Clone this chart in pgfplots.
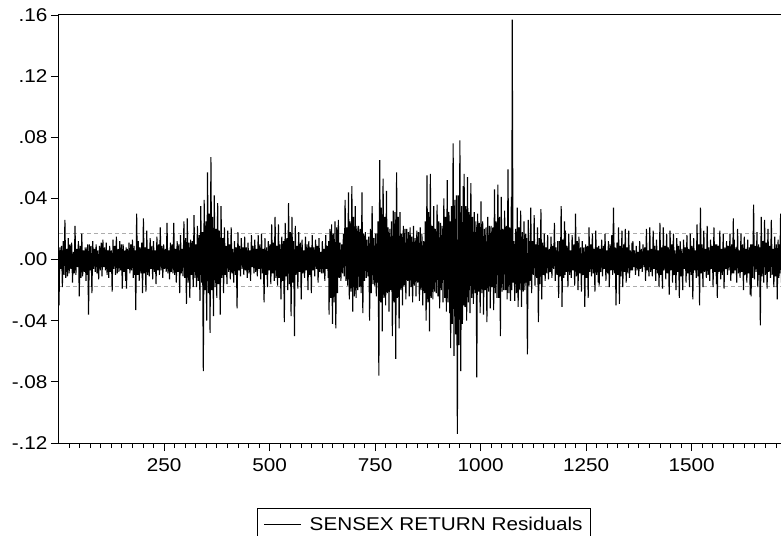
\documentclass[border=0pt]{standalone}
\usepackage{fontspec}
\setmainfont{Liberation Sans}[FakeStretch=1.12]
\usepackage{pgfplots}
\pgfplotsset{compat=1.18}
\usepackage{pgfplotstable}

\pgfplotstableread[row sep=\\]{
x y\\
1 -0.030\\ 3 0.008\\ 5 -0.006\\ 7 0.009\\ 9 -0.018\\ 11 0.012\\ 13 -0.010\\ 15 0.026\\ 17 -0.012\\ 19 0.007\\ 21 -0.011\\ 23 0.014\\ 25 -0.009\\ 27 0.010\\ 29 -0.006\\ 31 0.011\\ 33 -0.015\\ 35 0.005\\ 37 -0.009\\ 39 0.022\\
41 -0.010\\ 43 0.007\\ 45 -0.005\\ 47 0.012\\ 49 -0.024\\ 51 0.009\\ 53 -0.012\\ 55 0.017\\ 57 -0.011\\ 59 0.006\\ 61 -0.008\\ 63 0.008\\ 65 -0.014\\ 67 0.008\\ 68 -0.010\\ 69 0.010\\ 71 -0.036\\ 73 0.010\\ 75 -0.007\\ 77 0.009\\ 79 -0.022\\
81 0.012\\ 83 -0.006\\ 85 0.007\\ 87 -0.008\\ 89 0.010\\ 91 -0.009\\ 93 0.006\\ 95 -0.013\\ 97 0.009\\ 99 -0.007\\ 101 0.011\\ 103 -0.011\\ 105 0.013\\ 107 -0.005\\ 109 0.008\\ 111 -0.007\\ 113 0.011\\ 115 -0.010\\ 117 0.006\\ 119 -0.012\\
121 0.009\\ 123 -0.008\\ 125 0.006\\ 127 -0.021\\ 129 0.013\\ 131 -0.006\\ 133 0.009\\ 135 -0.010\\ 137 0.015\\ 139 -0.009\\ 141 0.007\\ 143 -0.008\\ 145 0.012\\ 147 -0.007\\ 149 0.010\\ 151 -0.019\\ 153 0.010\\ 155 -0.008\\ 157 0.006\\ 159 -0.014\\ 160 0.008\\
161 -0.019\\ 163 0.007\\ 165 -0.006\\ 167 0.011\\ 169 -0.009\\ 171 0.010\\ 173 -0.007\\ 175 0.013\\ 177 -0.012\\ 179 0.009\\ 180 -0.010\\ 181 0.006\\ 183 -0.033\\ 185 0.030\\ 187 -0.010\\ 189 0.012\\ 191 -0.014\\ 193 0.008\\ 195 -0.009\\ 197 0.011\\ 199 -0.022\\
201 0.027\\ 203 -0.009\\ 205 0.008\\ 207 -0.021\\ 209 0.019\\ 211 -0.010\\ 213 0.007\\ 215 -0.011\\ 217 0.014\\ 219 -0.006\\ 221 0.009\\ 223 -0.013\\ 225 0.012\\ 227 -0.008\\ 229 0.006\\ 231 -0.016\\ 233 0.015\\ 235 -0.007\\ 237 0.010\\ 239 -0.010\\
241 0.021\\ 243 -0.007\\ 245 0.009\\ 247 -0.012\\ 249 0.010\\ 251 -0.006\\ 253 0.007\\ 255 -0.008\\ 257 0.024\\ 259 -0.009\\ 261 0.006\\ 263 -0.013\\ 265 0.011\\ 267 -0.008\\ 269 0.010\\ 271 -0.009\\ 273 0.024\\ 275 -0.010\\ 277 0.007\\ 279 -0.015\\
281 0.012\\ 283 -0.008\\ 285 0.010\\ 287 -0.022\\ 289 0.016\\ 291 -0.009\\ 293 0.007\\ 295 -0.011\\ 297 0.025\\ 299 -0.012\\ 301 0.014\\ 303 -0.029\\ 305 0.027\\ 307 -0.015\\ 309 0.011\\ 311 -0.025\\ 313 0.013\\ 315 -0.010\\ 317 0.012\\ 319 -0.018\\
321 0.029\\ 323 -0.012\\ 325 0.010\\ 327 -0.018\\ 329 0.022\\ 331 -0.014\\ 333 0.016\\ 335 -0.027\\ 337 0.035\\ 339 -0.015\\ 341 0.018\\ 343 -0.073\\ 345 0.039\\ 347 -0.020\\ 349 0.025\\ 351 -0.040\\ 353 0.057\\ 355 -0.022\\ 357 0.030\\ 359 -0.048\\
361 0.067\\ 363 -0.020\\ 365 0.028\\ 367 -0.037\\ 369 0.042\\ 371 -0.018\\ 373 0.020\\ 375 -0.025\\ 377 0.037\\ 379 -0.016\\ 381 0.019\\ 383 -0.036\\ 385 0.035\\ 387 -0.012\\ 389 0.014\\ 391 -0.022\\ 393 0.021\\ 395 -0.010\\ 397 0.009\\ 399 -0.016\\
401 0.019\\ 403 -0.008\\ 405 0.010\\ 407 -0.013\\ 409 0.021\\ 411 -0.009\\ 413 0.007\\ 415 -0.015\\ 417 0.012\\ 419 -0.010\\ 421 0.008\\ 423 -0.032\\ 425 0.018\\ 427 -0.007\\ 429 0.009\\ 431 -0.011\\ 433 0.014\\ 435 -0.006\\ 437 0.008\\ 439 -0.010\\
441 0.015\\ 443 -0.007\\ 445 0.008\\ 447 -0.012\\ 449 0.011\\ 451 -0.009\\ 453 0.006\\ 455 -0.014\\ 457 0.016\\ 459 -0.005\\ 461 0.009\\ 463 -0.009\\ 465 0.013\\ 467 -0.008\\ 469 0.007\\ 471 -0.011\\ 473 0.016\\ 475 -0.006\\ 477 0.010\\ 479 -0.013\\
481 0.017\\ 483 -0.009\\ 485 0.007\\ 487 -0.028\\ 489 0.014\\ 491 -0.010\\ 493 0.008\\ 495 -0.018\\ 497 0.012\\ 499 -0.007\\ 501 0.010\\ 503 -0.016\\ 505 0.023\\ 507 -0.009\\ 509 0.011\\ 511 -0.014\\ 513 0.028\\ 515 -0.012\\ 517 0.009\\ 519 -0.017\\
521 0.023\\ 523 -0.012\\ 525 0.010\\ 527 -0.026\\ 529 0.015\\ 531 -0.014\\ 533 0.012\\ 535 -0.041\\ 537 0.024\\ 539 -0.011\\ 541 0.014\\ 543 -0.020\\ 545 0.037\\ 547 -0.016\\ 549 0.018\\ 551 -0.037\\ 553 0.028\\ 555 -0.015\\ 557 0.012\\ 559 -0.050\\
561 0.022\\ 563 -0.010\\ 565 0.009\\ 567 -0.019\\ 569 0.018\\ 571 -0.008\\ 573 0.011\\ 575 -0.026\\ 577 0.013\\ 579 -0.009\\ 581 0.006\\ 583 -0.012\\ 585 0.015\\ 587 -0.007\\ 589 0.010\\ 591 -0.020\\ 593 0.012\\ 595 -0.010\\ 597 0.008\\ 599 -0.022\\
601 0.016\\ 603 -0.007\\ 605 0.008\\ 607 -0.011\\ 609 0.013\\ 611 -0.006\\ 613 0.009\\ 615 -0.015\\ 617 0.014\\ 619 -0.008\\ 621 0.005\\ 623 -0.009\\ 625 0.012\\ 627 -0.009\\ 629 0.007\\ 631 -0.014\\ 633 0.016\\ 635 -0.006\\ 637 0.009\\ 639 -0.012\\ 640 0.012\\
641 -0.036\\ 643 0.020\\ 645 -0.025\\ 647 0.023\\ 649 -0.042\\ 651 0.017\\ 653 -0.028\\ 655 0.025\\ 657 -0.045\\ 659 0.021\\ 661 -0.022\\ 663 0.026\\ 665 -0.012\\ 667 0.011\\ 669 -0.014\\ 671 0.010\\ 673 -0.009\\ 675 0.017\\ 677 -0.011\\ 679 0.039\\
681 -0.014\\ 683 0.021\\ 685 -0.017\\ 687 0.044\\ 689 -0.026\\ 691 0.025\\ 693 -0.021\\ 695 0.048\\ 697 -0.034\\ 699 0.028\\ 701 -0.024\\ 703 0.035\\ 705 -0.025\\ 707 0.022\\ 709 -0.020\\ 711 0.022\\ 713 -0.018\\ 715 0.020\\ 717 -0.022\\ 719 0.044\\
721 -0.035\\ 723 0.017\\ 725 -0.014\\ 727 0.018\\ 729 -0.012\\ 731 0.013\\ 733 -0.011\\ 735 0.015\\ 737 -0.040\\ 739 0.020\\ 741 -0.022\\ 743 0.035\\ 745 -0.016\\ 747 0.014\\ 749 -0.017\\ 751 0.017\\ 753 -0.024\\ 755 0.017\\ 756 -0.015\\ 757 0.025\\ 759 -0.076\\
761 0.065\\ 763 -0.028\\ 765 0.034\\ 767 -0.047\\ 769 0.053\\ 771 -0.025\\ 773 0.028\\ 775 -0.030\\ 777 0.045\\ 779 -0.022\\ 781 0.021\\ 783 -0.034\\ 785 0.020\\ 787 -0.020\\ 789 0.025\\ 791 -0.050\\ 793 0.032\\ 795 -0.028\\ 797 0.031\\ 799 -0.065\\
801 0.057\\ 803 -0.025\\ 805 0.028\\ 807 -0.045\\ 809 0.031\\ 811 -0.020\\ 813 0.017\\ 815 -0.030\\ 817 0.022\\ 819 -0.017\\ 821 0.020\\ 823 -0.026\\ 825 0.020\\ 827 -0.014\\ 829 0.018\\ 831 -0.024\\ 833 0.021\\ 835 -0.018\\ 837 0.015\\ 839 -0.028\\
841 0.022\\ 843 -0.017\\ 845 0.014\\ 847 -0.024\\ 849 0.019\\ 851 -0.015\\ 853 0.018\\ 855 -0.027\\ 857 0.021\\ 859 -0.020\\ 861 0.017\\ 863 -0.030\\ 865 0.012\\ 867 -0.022\\ 869 0.025\\ 871 -0.040\\ 873 0.055\\ 875 -0.028\\ 877 0.031\\ 879 -0.047\\
881 0.056\\ 883 -0.025\\ 885 0.022\\ 887 -0.026\\ 889 0.035\\ 891 -0.021\\ 893 0.020\\ 895 -0.022\\ 897 0.036\\ 899 -0.024\\ 901 0.025\\ 903 -0.032\\ 905 0.024\\ 907 -0.020\\ 909 0.022\\ 911 -0.028\\ 913 0.040\\ 915 -0.025\\ 917 0.028\\ 919 -0.034\\
921 0.052\\ 923 -0.028\\ 925 0.031\\ 927 -0.035\\ 928 0.025\\ 929 -0.058\\ 931 0.035\\ 933 -0.042\\ 935 0.076\\ 937 -0.063\\ 939 0.039\\ 941 -0.049\\ 943 0.042\\ 945 -0.114\\ 947 0.042\\ 949 -0.056\\ 951 0.078\\ 953 -0.073\\ 955 0.035\\ 957 -0.042\\ 959 0.048\\ 960 -0.030\\
961 0.056\\ 963 -0.031\\ 965 0.035\\ 967 -0.040\\ 969 0.054\\ 971 -0.028\\ 973 0.031\\ 975 -0.035\\ 977 0.050\\ 979 -0.025\\ 981 0.028\\ 983 -0.029\\ 985 0.031\\ 987 -0.022\\ 989 0.025\\ 991 -0.077\\ 993 0.030\\ 995 -0.021\\ 997 0.024\\ 999 -0.035\\
1001 0.038\\ 1003 -0.022\\ 1005 0.025\\ 1007 -0.036\\ 1009 0.020\\ 1011 -0.020\\ 1013 0.021\\ 1015 -0.041\\ 1017 0.028\\ 1019 -0.021\\ 1021 0.022\\ 1023 -0.032\\ 1025 0.022\\ 1027 -0.018\\ 1029 0.021\\ 1031 -0.033\\ 1033 0.046\\ 1035 -0.022\\ 1037 0.025\\ 1039 -0.025\\
1041 0.049\\ 1043 -0.025\\ 1045 0.028\\ 1047 -0.050\\ 1049 0.041\\ 1051 -0.021\\ 1053 0.020\\ 1055 -0.020\\ 1057 0.032\\ 1059 -0.020\\ 1061 0.022\\ 1063 -0.026\\ 1065 0.059\\ 1067 -0.022\\ 1069 0.021\\ 1071 -0.027\\ 1073 0.041\\ 1074 -0.020\\ 1075 0.157\\ 1077 -0.015\\ 1079 0.012\\
1081 -0.027\\ 1083 0.020\\ 1085 -0.022\\ 1087 0.034\\ 1089 -0.031\\ 1091 0.021\\ 1093 -0.020\\ 1095 0.032\\ 1097 -0.031\\ 1099 0.018\\ 1101 -0.021\\ 1103 0.025\\ 1105 -0.020\\ 1107 0.017\\ 1108 -0.015\\ 1109 0.014\\ 1111 -0.062\\ 1113 0.026\\ 1115 -0.017\\ 1116 0.012\\ 1117 -0.014\\ 1119 0.034\\
1121 -0.022\\ 1123 0.012\\ 1125 -0.010\\ 1127 0.029\\ 1129 -0.017\\ 1131 0.010\\ 1133 -0.012\\ 1135 0.021\\ 1137 -0.041\\ 1139 0.014\\ 1141 -0.016\\ 1143 0.033\\ 1145 -0.026\\ 1147 0.011\\ 1149 -0.010\\ 1151 0.017\\ 1153 -0.014\\ 1155 0.008\\ 1157 -0.009\\ 1159 0.016\\
1161 -0.013\\ 1163 0.007\\ 1165 -0.008\\ 1167 0.015\\ 1169 -0.012\\ 1171 0.009\\ 1173 -0.006\\ 1175 0.024\\ 1177 -0.014\\ 1179 0.008\\ 1181 -0.010\\ 1183 0.012\\ 1185 -0.025\\ 1187 0.012\\ 1189 -0.011\\ 1191 0.035\\ 1193 -0.031\\ 1195 0.013\\ 1197 -0.012\\ 1199 0.025\\ 1200 -0.010\\
1201 0.019\\ 1203 -0.008\\ 1205 0.009\\ 1207 -0.018\\ 1209 0.017\\ 1211 -0.010\\ 1213 0.006\\ 1215 -0.012\\ 1217 0.016\\ 1219 -0.007\\ 1221 0.010\\ 1223 -0.017\\ 1225 0.030\\ 1227 -0.011\\ 1229 0.012\\ 1231 -0.020\\ 1233 0.015\\ 1235 -0.009\\ 1237 0.008\\ 1239 -0.021\\
1241 0.012\\ 1243 -0.010\\ 1245 0.008\\ 1247 -0.031\\ 1249 0.010\\ 1251 -0.012\\ 1253 0.009\\ 1255 -0.025\\ 1257 0.021\\ 1259 -0.008\\ 1261 0.010\\ 1263 -0.011\\ 1265 0.017\\ 1267 -0.009\\ 1269 0.007\\ 1271 -0.021\\ 1273 0.019\\ 1275 -0.010\\ 1277 0.008\\ 1279 -0.015\\ 1280 0.009\\
1281 -0.017\\ 1283 0.007\\ 1285 -0.008\\ 1287 0.013\\ 1289 -0.011\\ 1291 0.009\\ 1293 -0.006\\ 1295 0.017\\ 1297 -0.014\\ 1299 0.006\\ 1301 -0.009\\ 1303 0.012\\ 1305 -0.018\\ 1307 0.010\\ 1309 -0.007\\ 1311 0.016\\ 1313 -0.010\\ 1315 0.034\\ 1317 -0.009\\ 1319 0.008\\
1321 -0.030\\ 1323 0.011\\ 1325 -0.010\\ 1327 0.021\\ 1329 -0.029\\ 1331 0.009\\ 1333 -0.011\\ 1335 0.019\\ 1337 -0.018\\ 1339 0.010\\ 1341 -0.008\\ 1343 0.020\\ 1345 -0.015\\ 1347 0.008\\ 1349 -0.009\\ 1351 0.019\\ 1353 -0.012\\ 1355 0.006\\ 1357 -0.007\\ 1359 0.011\\ 1360 -0.007\\
1361 0.012\\ 1363 -0.005\\ 1365 0.006\\ 1367 -0.010\\ 1369 0.009\\ 1371 -0.007\\ 1373 0.005\\ 1375 -0.011\\ 1377 0.012\\ 1379 -0.006\\ 1381 0.007\\ 1383 -0.008\\ 1385 0.010\\ 1387 -0.005\\ 1389 0.008\\ 1391 -0.014\\ 1393 0.020\\ 1395 -0.007\\ 1397 0.006\\ 1399 -0.011\\
1401 0.021\\ 1403 -0.008\\ 1405 0.007\\ 1407 -0.011\\ 1409 0.019\\ 1411 -0.006\\ 1413 0.009\\ 1415 -0.014\\ 1417 0.013\\ 1419 -0.009\\ 1421 0.006\\ 1423 -0.018\\ 1425 0.024\\ 1427 -0.010\\ 1429 0.008\\ 1431 -0.019\\ 1433 0.021\\ 1435 -0.007\\ 1437 0.009\\ 1439 -0.013\\
1441 0.017\\ 1443 -0.009\\ 1445 0.008\\ 1447 -0.023\\ 1449 0.019\\ 1451 -0.007\\ 1453 0.010\\ 1455 -0.015\\ 1457 0.017\\ 1459 -0.010\\ 1461 0.006\\ 1463 -0.020\\ 1465 0.014\\ 1467 -0.008\\ 1469 0.009\\ 1471 -0.025\\ 1473 0.012\\ 1475 -0.011\\ 1477 0.007\\ 1479 -0.020\\
1481 0.013\\ 1483 -0.006\\ 1485 0.008\\ 1487 -0.015\\ 1489 0.016\\ 1491 -0.009\\ 1493 0.007\\ 1495 -0.018\\ 1497 0.017\\ 1499 -0.010\\ 1501 0.009\\ 1503 -0.026\\ 1505 0.014\\ 1507 -0.007\\ 1509 0.006\\ 1511 -0.012\\ 1513 0.023\\ 1515 -0.011\\ 1517 0.010\\ 1519 -0.030\\
1521 0.034\\ 1523 -0.009\\ 1525 0.010\\ 1527 -0.018\\ 1529 0.019\\ 1531 -0.008\\ 1533 0.007\\ 1535 -0.012\\ 1537 0.022\\ 1539 -0.010\\ 1541 0.008\\ 1543 -0.014\\ 1545 0.013\\ 1547 -0.006\\ 1549 0.009\\ 1551 -0.018\\ 1553 0.021\\ 1555 -0.008\\ 1557 0.010\\ 1559 -0.016\\ 1560 0.010\\
1561 -0.025\\ 1563 0.009\\ 1565 -0.008\\ 1567 0.019\\ 1569 -0.013\\ 1571 0.007\\ 1573 -0.010\\ 1575 0.017\\ 1577 -0.019\\ 1579 0.008\\ 1581 -0.006\\ 1583 0.012\\ 1585 -0.010\\ 1587 0.009\\ 1589 -0.007\\ 1591 0.017\\ 1593 -0.014\\ 1595 0.010\\ 1597 -0.009\\ 1599 0.027\\ 1600 -0.009\\
1601 0.013\\ 1603 -0.007\\ 1605 0.008\\ 1607 -0.015\\ 1609 0.020\\ 1611 -0.009\\ 1613 0.006\\ 1615 -0.012\\ 1617 0.017\\ 1619 -0.008\\ 1621 0.010\\ 1623 -0.020\\ 1625 0.015\\ 1627 -0.010\\ 1629 0.007\\ 1631 -0.015\\ 1633 0.013\\ 1635 -0.009\\ 1637 0.008\\ 1639 -0.023\\ 1640 0.010\\
1641 -0.024\\ 1643 0.010\\ 1645 -0.012\\ 1647 0.036\\ 1649 -0.013\\ 1651 0.009\\ 1653 -0.008\\ 1655 0.018\\ 1657 -0.018\\ 1659 0.010\\ 1660 -0.010\\ 1661 0.008\\ 1663 -0.043\\ 1665 0.028\\ 1667 -0.011\\ 1669 0.012\\ 1671 -0.015\\ 1673 0.026\\ 1675 -0.010\\ 1677 0.011\\ 1679 -0.019\\
1681 0.020\\ 1683 -0.008\\ 1685 0.009\\ 1687 -0.012\\ 1689 0.026\\ 1691 -0.010\\ 1693 0.007\\ 1695 -0.018\\ 1697 0.015\\ 1699 -0.011\\ 1701 0.010\\ 1703 -0.026\\ 1705 0.013\\ 1707 -0.012\\ 1708 0.010\\ 1709 -0.009\\ 1711 0.030\\ 1713 -0.015\\ 1715 0.010\\ 1717 -0.008\\ 1719 0.017\\
}\resid

\begin{document}
\begin{tikzpicture}
\begin{axis}[
    scale only axis,
    width=725.4pt, height=428pt,
    at={(0pt,0pt)}, anchor=south west,
    xmin=1, xmax=1720,
    ymin=-0.12, ymax=0.16,
    xtick={250,500,750,1000,1250,1500},
    xticklabels={250,500,750,1000,1250,1500},
    minor xtick={25,50,...,1700},
    ytick={-0.12,-0.08,-0.04,0,0.04,0.08,0.12,0.16},
    yticklabels={-.12,-.08,-.04,.00,.04,.08,.12,.16},
    tick align=outside,
    xtick pos=bottom, ytick pos=left,
    major tick length=8pt, minor tick length=5pt,
    tick style={black, line width=0.8pt},
    axis line style={line width=1pt},
    ticklabel style={font=\fontsize{18.5}{22}\selectfont},
    xticklabel style={yshift=-4pt},
    legend style={at={(axis description cs:0.5035,0)}, anchor=north,
        yshift=-65pt, draw=black, line width=0.8pt,
        font=\fontsize{18.5}{22}\selectfont, inner xsep=6pt, inner ysep=7pt,
        /tikz/every odd column/.append style={column sep=6pt}},
    legend image code/.code={\draw[black, line width=0.8pt] (0pt,0pt) -- (37pt,0pt);},
]
    % +/- standard error bands and zero line
    \addplot[gray!65, line width=0.6pt, dash pattern=on 4pt off 3pt, forget plot]
        coordinates {(1,0.0175) (1720,0.0175)};
    \addplot[gray!65, line width=0.6pt, dash pattern=on 4pt off 3pt, forget plot]
        coordinates {(1,-0.0175) (1720,-0.0175)};
    \addplot[black!60, line width=0.6pt, forget plot]
        coordinates {(1,0) (1720,0)};
    \addplot[black, line width=1.1pt, line join=bevel, no markers] table[x=x, y=y] {\resid};
    \addlegendentry{SENSEX RETURN Residuals}
\end{axis}
\pgfresetboundingbox
\path[use as bounding box] (-59pt,-92pt) rectangle (722pt,443pt);
\end{tikzpicture}
\end{document}
